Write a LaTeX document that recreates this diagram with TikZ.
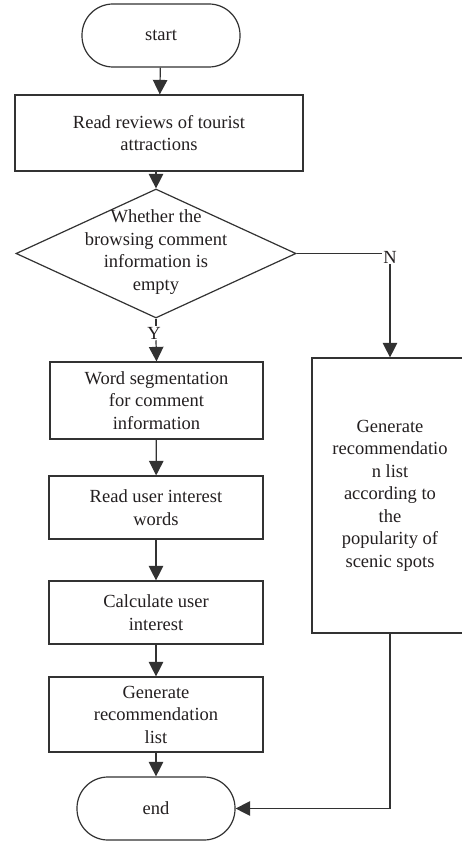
\documentclass[tikz,border=0pt]{standalone}
\usepackage{fontspec}
\setmainfont{Liberation Serif}
\usetikzlibrary{arrows.meta,shapes.geometric}
\definecolor{ink}{RGB}{35,31,32}
\definecolor{linec}{RGB}{50,50,50}
\tikzset{
  base/.style={draw=linec, line width=1.2pt, text=ink, align=center, inner sep=2pt,
    font=\fontsize{18.5}{22.5}\selectfont},
  proc/.style={base, rectangle},
  term/.style={base, rectangle, rounded corners=31pt, minimum width=158pt, minimum height=63pt},
  lbl/.style={text=ink, inner sep=1pt, font=\fontsize{18.5}{22.5}\selectfont},
  conn/.style={draw=linec, line width=1.2pt},
  arr/.style={conn, -{Triangle[width=14.5pt,length=14.5pt]}}
}
\begin{document}
\begin{tikzpicture}[x=1pt,y=-1pt]
\clip (0,0) rectangle (462,842);
\fill[white] (0,0) rectangle (462,842);
\node[term] (start) at (161,35.5) {start};
\node[proc, minimum width=288pt, minimum height=76pt] (read) at (159,133) {Read reviews of tourist\\attractions};
\node[base, diamond, minimum width=280pt, minimum height=129pt, inner sep=0pt] (dec) at (156,253.5) {};
\node[lbl, align=center] (dectext) at (156,252) {Whether the\\browsing comment\\information is\\empty};
\node[lbl] (N) at (390,257) {N};
\node[lbl] (Y) at (154,333) {Y};
\node[proc, minimum width=213pt, minimum height=77pt] (ws) at (156.5,400.5) {Word segmentation\\for comment\\information};
\node[proc, minimum width=214pt, minimum height=63pt] (riw) at (156,507.5) {Read user interest\\words};
\node[proc, minimum width=214pt, minimum height=63pt] (cui) at (156,612.5) {Calculate user\\interest};
\node[proc, minimum width=214pt, minimum height=75pt] (grl) at (156,714.5) {Generate\\recommendation\\list};
\node[term] (end) at (156,808.5) {end};
\node[proc, minimum width=156pt, minimum height=275pt] (pop) at (390,495.5) {Generate\\recommendatio\\n list\\according to\\the\\popularity of\\scenic spots};
\draw[arr] (start) -- (read);
\draw[arr] (read.south -| dec.north) -- (dec.north);
\draw[conn] (dec.east) -- (N.west |- dec.east);
\draw[arr] (N.south) -- (pop.north);
\draw[conn] (dec.south) -- (dec.south |- Y.north);
\draw[arr] (dec.south |- Y.south) -- (ws.north);
\draw[arr] (ws) -- (riw);
\draw[arr] (riw) -- (cui);
\draw[arr] (cui) -- (grl);
\draw[arr] (grl) -- (end);
\draw[arr] (pop.south) |- (end.east);
\end{tikzpicture}
\end{document}
